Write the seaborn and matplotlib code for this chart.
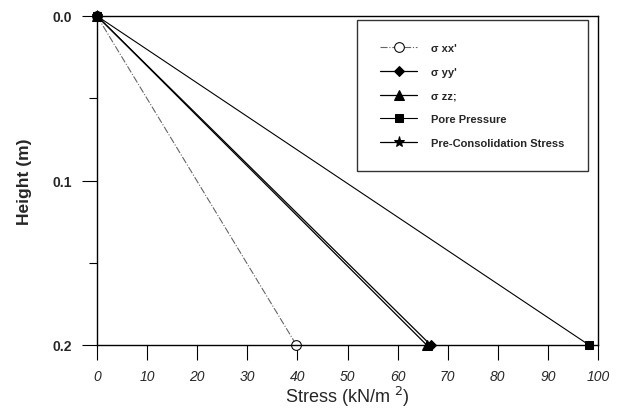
import matplotlib
matplotlib.use("Agg")
import matplotlib.pyplot as plt
import seaborn as sns
import pandas as pd
from matplotlib.ticker import MultipleLocator

sns.set_style("ticks")
plt.rcParams['font.family'] = ['Liberation Sans', 'DejaVu Sans']

# data
height = [0.0, 0.2]
sigma_xx = [0.0, 39.8]
sigma_yy = [0.0, 66.6]
sigma_zz = [0.0, 65.8]
pore_pressure = [0.0, 98.2]
precons_height = [0.0]
precons_stress = [0.0]
labels = ["\u03c3 xx'", "\u03c3 yy'", "\u03c3 zz;", "Pore Pressure", "Pre-Consolidation Stress"]
x_ticks = [0, 10, 20, 30, 40, 50, 60, 70, 80, 90, 100]
y_ticks = [0.0, 0.1, 0.2]

fig = plt.figure(figsize=(6.24, 4.14), dpi=100)
ax = fig.add_axes([97/624, 1-346/414, (598-97)/624, (346-17)/414])

series = [
    (sigma_xx, height, labels[0], dict(marker='o', mfc='white', mec='black', color='#666666', lw=0.8, ms=7, ls='-.')),
    (sigma_yy, height, labels[1], dict(marker='D', mfc='black', mec='black', color='black', lw=0.9, ms=5.5)),
    (sigma_zz, height, labels[2], dict(marker='^', mfc='black', mec='black', color='black', lw=0.9, ms=6.5)),
    (pore_pressure, height, labels[3], dict(marker='s', mfc='black', mec='black', color='black', lw=0.8, ms=6)),
    (precons_stress, precons_height, labels[4], dict(marker='*', mfc='black', mec='black', color='black', lw=0.9, ms=8)),
]
for xs, ys, lab, kw in series:
    df = pd.DataFrame({"stress": xs, "height": ys})
    style = kw.pop('ls', '-')
    sns.lineplot(data=df, x="stress", y="height", ax=ax, label=lab, sort=False,
                 estimator=None, linestyle=style, clip_on=False, **kw)

ax.set_xlim(0, 100)
ax.set_ylim(0.2, 0.0)
ax.set_xticks(x_ticks)
ax.set_xticklabels([str(t) for t in x_ticks], fontstyle='italic', fontsize=10)
ax.set_yticks(y_ticks)
ax.set_yticklabels([f"{t:.1f}" for t in y_ticks], fontweight='bold', fontsize=10)
ax.yaxis.set_minor_locator(MultipleLocator(0.05))
ax.tick_params(axis='both', which='major', direction='out', length=11, width=0.8, color='black')
ax.tick_params(axis='y', which='minor', direction='out', length=6, width=0.8, color='black')
ax.tick_params(axis='x', pad=6)
ax.tick_params(axis='y', pad=7)
for s in ax.spines.values():
    s.set_visible(True)
    s.set_linewidth(1.0)
    s.set_color('black')

ax.set_xlabel("Stress (kN/m $^{2}$)", fontsize=13, labelpad=1)
ax.set_ylabel("Height (m)", fontsize=12.5, fontweight='bold', labelpad=15)

leg = ax.legend(loc='upper left', bbox_to_anchor=(0.519, 0.988), frameon=True, fancybox=False,
                edgecolor='black', fontsize=8, handlelength=3.3, labelspacing=1.22,
                borderpad=2.1, handletextpad=1.3, borderaxespad=0)
leg.get_frame().set_linewidth(1.0)
for t in leg.get_texts():
    t.set_fontweight('bold')

fig.savefig("out.png", dpi=100)
